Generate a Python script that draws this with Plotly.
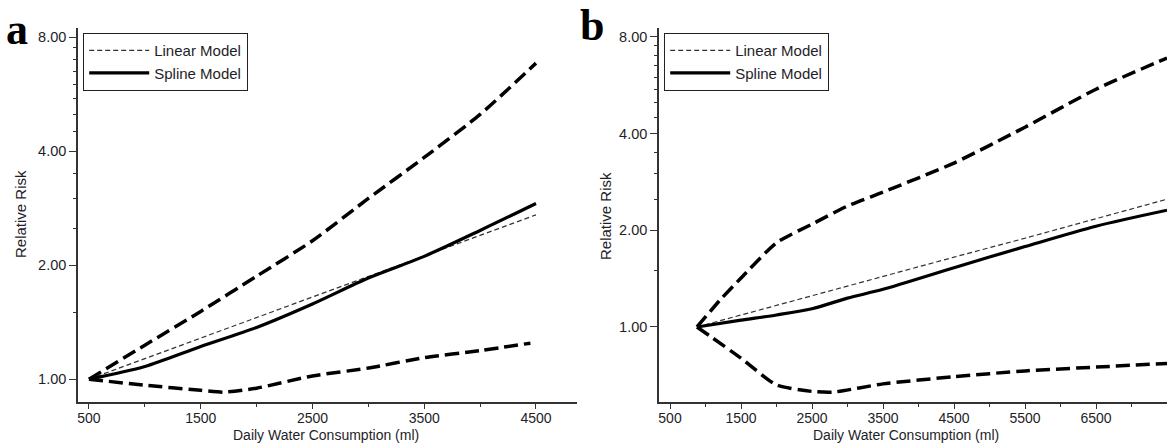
import plotly.graph_objects as go
import math

# ---------------- Panel a data ----------------
a_x = [500, 1000, 1500, 2000, 2500, 3000, 3500, 4000, 4500]
a_linear = [1.00, 1.133, 1.284, 1.455, 1.648, 1.867, 2.116, 2.397, 2.716]
a_spline = [1.00, 1.08, 1.22, 1.37, 1.58, 1.85, 2.11, 2.47, 2.91]
a_upper = [1.00, 1.23, 1.51, 1.87, 2.32, 3.00, 3.85, 5.00, 6.83]
a_lower_x = [500, 1000, 1500, 1700, 2000, 2500, 3000, 3500, 4000, 4450]
a_lower = [1.00, 0.964, 0.935, 0.924, 0.947, 1.02, 1.07, 1.14, 1.19, 1.245]

# ---------------- Panel b data ----------------
b_x = [880, 1500, 2500, 3500, 4500, 5500, 6500, 7500]
b_linear = [1.00, 1.09, 1.25, 1.44, 1.65, 1.89, 2.17, 2.50]
b_spline_x = [880, 1500, 2000, 2500, 3000, 3500, 4500, 5500, 6500, 7500]
b_spline = [1.00, 1.05, 1.09, 1.14, 1.23, 1.31, 1.53, 1.78, 2.06, 2.31]
b_upper_x = [880, 1200, 1500, 2000, 2500, 3000, 3500, 4500, 5500, 6500, 7500]
b_upper = [1.00, 1.21, 1.42, 1.83, 2.09, 2.38, 2.63, 3.24, 4.19, 5.50, 6.88]
b_lower_x = [880, 1500, 2000, 2500, 2800, 3500, 4500, 5500, 6500, 7500]
b_lower = [1.00, 0.80, 0.66, 0.63, 0.627, 0.665, 0.70, 0.73, 0.75, 0.77]

y_tickvals = [1, 2, 4, 8]
y_ticktext = ["1.00", "2.00", "4.00", "8.00"]
y_minor = [1.5, 2.5, 3, 3.5, 4.5, 5, 5.5, 6, 6.5, 7, 7.5]
x_label = "Daily Water Consumption (ml)"
y_label = "Relative Risk"

W, H = 1167, 443

fig = go.Figure()

ci_line = dict(color="black", width=3.5, dash="14px,6px", shape="spline", smoothing=0.6)
lin_line = dict(color="#333333", width=1.2, dash="5px,3px")
spl_line = dict(color="black", width=3.2, shape="spline", smoothing=0.8)

def add_panel(xs_lin, lin, xs_spl, spl, xs_up, up, xs_lo, lo, xa, ya, leg):
    fig.add_trace(go.Scatter(x=xs_up, y=up, mode="lines", line=ci_line, showlegend=False,
                             xaxis=xa, yaxis=ya, hoverinfo="skip"))
    fig.add_trace(go.Scatter(x=xs_lo, y=lo, mode="lines", line=ci_line, showlegend=False,
                             xaxis=xa, yaxis=ya, hoverinfo="skip"))
    fig.add_trace(go.Scatter(x=xs_lin, y=lin, mode="lines", line=lin_line, name="Linear Model",
                             legend=leg, legendrank=1, xaxis=xa, yaxis=ya))
    fig.add_trace(go.Scatter(x=xs_spl, y=spl, mode="lines", line=spl_line, name="Spline Model",
                             legend=leg, legendrank=2, xaxis=xa, yaxis=ya))

add_panel(a_x, a_linear, a_x, a_spline, a_x, a_upper, a_lower_x, a_lower, "x", "y", "legend")
add_panel(b_x, b_linear, b_spline_x, b_spline, b_upper_x, b_upper, b_lower_x, b_lower, "x2", "y2", "legend2")

font_fam = "Liberation Sans, Arial, sans-serif"
tick_font = dict(family=font_fam, size=14.5, color="#1e1e28")
xtick_font = dict(family=font_fam, size=14, color="#1e1e28")

def xaxis_cfg(domain, rng):
    return dict(domain=domain, range=rng, showline=True, linecolor="#333333", linewidth=1.5,
                showgrid=False, zeroline=False, ticks="outside", ticklen=5, tickwidth=1.2,
                tickcolor="#333333", tick0=500, dtick=1000, tickfont=xtick_font,
                ticklabelstandoff=-3,
                minor=dict(ticks="outside", ticklen=3, tickwidth=1, tickcolor="#333333",
                           tick0=0, dtick=1000, showgrid=False))

def yaxis_cfg(domain, rng, anchor):
    return dict(domain=domain, range=rng, type="log", anchor=anchor, showline=True,
                linecolor="#333333", linewidth=1.5, showgrid=False, zeroline=False,
                ticks="outside", ticklen=7, tickwidth=1.2, tickcolor="#333333",
                tickmode="array", tickvals=y_tickvals, ticktext=y_ticktext, tickfont=tick_font,
                minor=dict(ticks="outside", ticklen=3, tickwidth=1, tickcolor="#333333",
                           tickmode="array", tickvals=y_minor, showgrid=False))

ydom = [1 - 402 / H, 1 - 28 / H]

leg_common = dict(y=1 - 33 / H, xanchor="left", yanchor="top",
                  bordercolor="#222222", borderwidth=1.2, bgcolor="white",
                  font=dict(family=font_fam, size=15, color="#1e1e28"),
                  itemwidth=60, tracegroupgap=0)

fig.update_layout(
    width=W, height=H,
    margin=dict(l=0, r=0, t=0, b=0),
    paper_bgcolor="white", plot_bgcolor="white",
    xaxis=xaxis_cfg([78 / W, 577 / W], [402, 4867]) | dict(anchor="y"),
    yaxis=yaxis_cfg(ydom, [math.log10(2 ** -0.2), math.log10(2 ** 3.08)], "x"),
    xaxis2=xaxis_cfg([659 / W, 1.0], [345, 7500]) | dict(anchor="y2"),
    yaxis2=yaxis_cfg(ydom, [math.log10(2 ** -0.776), math.log10(2 ** 3.093)], "x2"),
    legend=dict(x=83 / W, **leg_common),
    legend2=dict(x=664 / W, **leg_common),
    showlegend=True,
)

title_font = dict(family=font_fam, size=14, color="#1e1e28")
ann = [
    dict(text=x_label, x=326 / W, y=1 - 435 / H, xref="paper", yref="paper",
         xanchor="center", yanchor="middle", showarrow=False, font=title_font),
    dict(text=x_label, x=906 / W, y=1 - 435 / H, xref="paper", yref="paper",
         xanchor="center", yanchor="middle", showarrow=False, font=title_font),
    dict(text=y_label, x=21 / W, y=1 - 214 / H, xref="paper", yref="paper", textangle=-90,
         xanchor="center", yanchor="middle", showarrow=False, font=dict(family=font_fam, size=15, color="#1e1e28")),
    dict(text=y_label, x=605 / W, y=1 - 216 / H, xref="paper", yref="paper", textangle=-90,
         xanchor="center", yanchor="middle", showarrow=False, font=dict(family=font_fam, size=15, color="#1e1e28")),
    dict(text="<b>a</b>", x=17 / W, y=1 - 29 / H, xref="paper", yref="paper",
         xanchor="center", yanchor="middle", showarrow=False,
         font=dict(family="Liberation Serif, Times New Roman, serif", size=44, color="black")),
    dict(text="<b>b</b>", x=592 / W, y=1 - 25 / H, xref="paper", yref="paper",
         xanchor="center", yanchor="middle", showarrow=False,
         font=dict(family="Liberation Serif, Times New Roman, serif", size=44, color="black")),
]
fig.update_layout(annotations=ann)

fig.write_html("out.html", config={"displayModeBar": False},
               post_script="document.body.style.margin='0';document.body.style.padding='0';document.body.style.overflow='hidden';")
